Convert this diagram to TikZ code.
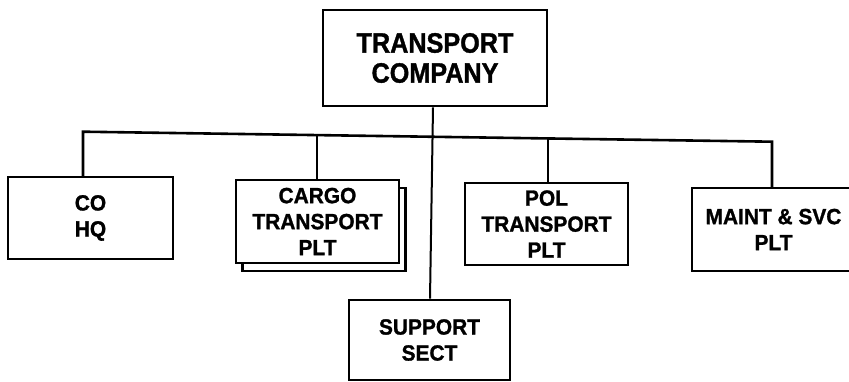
\documentclass[tikz,border=0pt]{standalone}
\usepackage{fontspec}
\setmainfont{Liberation Sans}[BoldFeatures={FakeBold=1.2,FakeStretch=0.95}]
\newfontfamily\headfont{Liberation Sans}[BoldFeatures={FakeBold=1.2,FakeStretch=0.9}]
\usetikzlibrary{calc}
\begin{document}
\begin{tikzpicture}[x=1pt,y=-1pt,
  unitbox/.style={draw=black,line width=2.6pt,fill=white,align=center,inner sep=0pt,
    font=\bfseries\fontsize{22}{26}\selectfont},
  headbox/.style={unitbox,font=\headfont\bfseries\fontsize{28}{30}\selectfont},
  link/.style={draw=black,line width=2pt},
  bus/.style={draw=black,line width=2.6pt,line cap=rect}]
\useasboundingbox (0,0) rectangle (849,382);
% top
\node[headbox,minimum width=224pt,minimum height=96pt] (top) at (435,58) {TRANSPORT\\COMPANY};
% subordinate units
\node[unitbox,minimum width=165pt,minimum height=82pt] (co) at (90.5,218) {CO\\HQ};
\node[draw=black,line width=2.6pt,fill=white,minimum width=163pt,minimum height=83pt,inner sep=0pt] (cargoshadow) at (324,229.5) {};
\node[unitbox,minimum width=163pt,minimum height=83pt] (cargo) at (317.5,221.5) {CARGO\\TRANSPORT\\PLT};
\node[unitbox,minimum width=163pt,minimum height=82pt] (pol) at (546.5,224) {POL\\TRANSPORT\\PLT};
\node[unitbox,minimum width=163pt,minimum height=83pt] (maint) at (773.5,229.5) {MAINT \& SVC\\PLT};
\node[unitbox,minimum width=161pt,minimum height=80pt] (support) at (429.5,340) {SUPPORT\\SECT};
% bus
\coordinate (busL) at ($(co.north)+(-7.5,-44)$);
\coordinate (busR) at ($(maint.north)+(-1.5,-45)$);
\draw[bus] (co.north -| busL) -- (busL) -- (busR) -- (maint.north -| busR);
\coordinate (bcargo) at ($(busL)!0.34!(busR)$);
\coordinate (bpol) at ($(busL)!0.675!(busR)$);
\draw[link] (bcargo) -- (bcargo |- cargo.north);
\draw[link] (bpol) -- (bpol |- pol.north);
% trunk
\draw[link] ([xshift=-2pt]top.south) -- ([xshift=0.5pt]support.north);
\end{tikzpicture}
\end{document}
